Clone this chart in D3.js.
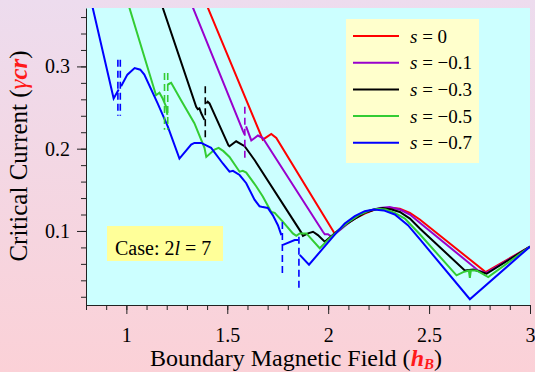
<!DOCTYPE html>
<html>
<head>
<meta charset="utf-8">
<script src="https://cdn.jsdelivr.net/npm/d3@7"></script>
<style>
	html, body { margin: 0; padding: 0; }
	svg { display: block; }
	text { font-family: "Liberation Serif", "Times New Roman", serif; fill: #000; }
</style>
</head>
<body>
<svg id="chart" width="535" height="372"></svg>
<script>
// data: critical current vs boundary field, one curve per s
const tickH = [1, 1.5, 2, 2.5, 3];
const tickGamma = [0.1, 0.2, 0.3];
const sValues = ['0', '\u22120.1', '\u22120.3', '\u22120.5', '\u22120.7'];

// [hB, gamma_cr], null marks a jump
const curveS0 = [
	[1.389, 0.380], [1.676, 0.211], [1.718, 0.218], [1.743, 0.213], [2.032, 0.097],
	[2.082, 0.107], [2.132, 0.115], [2.181, 0.121], [2.231, 0.126], [2.280, 0.128],
	[2.320, 0.128], [2.355, 0.127], [2.405, 0.122], [2.454, 0.114], [2.780, 0.050],
	[3.000, 0.081]
];
const curveS01 = [
	[1.314, 0.381], [1.577, 0.222], [1.586, 0.217], null,
	[1.593, 0.227], [1.619, 0.210], [1.652, 0.216], [1.676, 0.213], [1.974, 0.099],
	[1.983, 0.096], [1.999, 0.096], [2.017, 0.093], [2.057, 0.101], [2.107, 0.111],
	[2.156, 0.119], [2.206, 0.125], [2.256, 0.128], [2.305, 0.129], [2.355, 0.126],
	[2.405, 0.120], [2.454, 0.110], [2.743, 0.052], [2.785, 0.049], [3.000, 0.081]
];
const curveS03 = [
	[1.167, 0.381], [1.346, 0.251], [1.354, 0.248], [1.362, 0.249], [1.371, 0.243],
	[1.387, 0.235], null,
	[1.396, 0.255], [1.403, 0.257], [1.412, 0.255], [1.506, 0.204], [1.511, 0.203],
	[1.544, 0.209], [1.586, 0.203], [1.636, 0.186], [1.867, 0.098], [1.875, 0.094],
	[1.900, 0.097], [1.925, 0.099], [1.949, 0.095], [1.983, 0.087], [2.037, 0.098],
	[2.082, 0.107], [2.132, 0.115], [2.181, 0.122], [2.231, 0.126], [2.270, 0.128],
	[2.315, 0.126], [2.355, 0.123], [2.405, 0.115], [2.454, 0.103], [2.677, 0.052],
	[2.719, 0.053], [2.785, 0.048], [3.000, 0.081]
];
const curveS05 = [
	[1.003, 0.381], [1.147, 0.265], [1.164, 0.268], [1.180, 0.261], [1.197, 0.251],
	[1.203, 0.241], null,
	[1.205, 0.278], [1.222, 0.280], [1.271, 0.259], [1.337, 0.231], [1.387, 0.201],
	[1.396, 0.190], [1.437, 0.199], [1.457, 0.201], [1.481, 0.197], [1.511, 0.190],
	[1.561, 0.172], [1.577, 0.173], [1.594, 0.171], [1.644, 0.154], [1.676, 0.142],
	[1.718, 0.123], [1.735, 0.122], [1.776, 0.111], [1.825, 0.097], [1.842, 0.094],
	[1.859, 0.097], [1.892, 0.097], [1.958, 0.079], [2.007, 0.091], [2.057, 0.102],
	[2.107, 0.112], [2.156, 0.120], [2.206, 0.125], [2.246, 0.127], [2.285, 0.126],
	[2.330, 0.122], [2.380, 0.115], [2.454, 0.096], [2.636, 0.046], [2.669, 0.050],
	[2.697, 0.052], [2.702, 0.043], [2.707, 0.052], [2.735, 0.052], [2.793, 0.044],
	[3.000, 0.081]
];
const curveS07 = [
	[0.824, 0.381], [0.937, 0.261], [0.962, 0.272], null,
	[0.974, 0.276], [1.005, 0.290], [1.041, 0.298], [1.069, 0.296], [1.089, 0.290],
	[1.155, 0.255], [1.205, 0.227], [1.263, 0.188], [1.321, 0.205], [1.337, 0.207],
	[1.371, 0.207], [1.420, 0.201], [1.478, 0.182], [1.511, 0.172], [1.528, 0.173],
	[1.561, 0.168], [1.594, 0.158], [1.635, 0.138], [1.660, 0.130], [1.676, 0.129],
	[1.701, 0.128], [1.726, 0.119], [1.751, 0.107], [1.768, 0.095], null,
	[1.776, 0.083], [1.834, 0.089], [1.851, 0.089], null,
	[1.859, 0.071], [1.905, 0.059], [2.041, 0.098], [2.082, 0.109], [2.132, 0.118],
	[2.181, 0.124], [2.226, 0.126], [2.275, 0.125], [2.330, 0.120], [2.395, 0.107],
	[2.454, 0.090], [2.702, 0.017], [3.000, 0.081]
];

// vertical dashed jump markers (series index into sValues)
const jumpMarks = [
	{ series: 4, h: 0.958, lo: 0.240, hi: 0.308 },
	{ series: 4, h: 0.970, lo: 0.240, hi: 0.308 },
	{ series: 3, h: 1.189, lo: 0.223, hi: 0.292 },
	{ series: 3, h: 1.205, lo: 0.223, hi: 0.292 },
	{ series: 2, h: 1.391, lo: 0.211, hi: 0.276 },
	{ series: 1, h: 1.587, lo: 0.186, hi: 0.251 },
	{ series: 4, h: 1.773, lo: 0.044, hi: 0.111 },
	{ series: 4, h: 1.855, lo: 0.028, hi: 0.093 }
];

const curves = [curveS0, curveS01, curveS03, curveS05, curveS07];

// configs
const WIDTH = 535;
const HEIGHT = 372;
const PLOT = { left: 86, top: 8, right: 530, bottom: 305 };
const SERIES_COLORS = ['#ff0000', '#9900cc', '#000000', '#33cc33', '#0000ff'];
const LINE_W = 2;
const PLOT_BG = '#ccffff';
const LEGEND_BG = '#ffffcc';
const CASE_BG = '#ffff99';
const ACCENT = '#ff1a1a';
const SERIF = '"Liberation Serif", "Times New Roman", serif';

const svg = d3.select('#chart');

// outer gradient background
const defs = svg.append('defs');
const grad = defs.append('linearGradient')
	.attr('id', 'bg-grad')
	.attr('x1', 0).attr('y1', 0)
	.attr('x2', 0).attr('y2', 1);
grad.append('stop').attr('offset', '0%').attr('stop-color', '#eddcee');
grad.append('stop').attr('offset', '100%').attr('stop-color', '#fbd1d7');

svg.append('rect')
	.attr('width', WIDTH)
	.attr('height', HEIGHT)
	.attr('fill', 'url(#bg-grad)');

defs.append('clipPath')
	.attr('id', 'plot-clip')
	.append('rect')
	.attr('x', PLOT.left)
	.attr('y', PLOT.top)
	.attr('width', PLOT.right - PLOT.left)
	.attr('height', PLOT.bottom - PLOT.top);

svg.append('rect')
	.attr('x', PLOT.left)
	.attr('y', PLOT.top)
	.attr('width', PLOT.right - PLOT.left)
	.attr('height', PLOT.bottom - PLOT.top)
	.attr('fill', PLOT_BG);

// scales
const x = d3.scaleLinear().domain([0.8, 3]).range([PLOT.left, PLOT.right]);
const y = d3.scaleLinear().domain([0.01, 0.371]).range([PLOT.bottom, PLOT.top]);

const minorH = d3.range(8, 31).map(d => d / 10);
const minorGamma = d3.range(1, 19).map(d => d * 0.02);

// axes: minor ticks first, then labelled major ticks
svg.append('g')
	.attr('transform', `translate(0,${PLOT.bottom})`)
	.call(d3.axisBottom(x).tickValues(minorH).tickSize(5).tickSizeOuter(0).tickFormat(''));
const xMajor = svg.append('g')
	.attr('transform', `translate(0,${PLOT.bottom})`)
	.call(d3.axisBottom(x).tickValues(tickH).tickSize(9).tickSizeOuter(0).tickPadding(14)
		.tickFormat(d3.format('~g')));
xMajor.select('.domain').remove();

svg.append('g')
	.attr('transform', `translate(${PLOT.left},0)`)
	.call(d3.axisLeft(y).tickValues(minorGamma).tickSize(5).tickSizeOuter(0).tickFormat(''));
const yMajor = svg.append('g')
	.attr('transform', `translate(${PLOT.left},0)`)
	.call(d3.axisLeft(y).tickValues(tickGamma).tickSize(9).tickSizeOuter(0).tickPadding(7)
		.tickFormat(d3.format('.1f')));
yMajor.select('.domain').remove();

// serif tick labels (d3 puts sans-serif on the axis group)
[xMajor, yMajor].forEach(g => g.attr('font-family', SERIF).attr('font-size', 20));
svg.selectAll('.tick text').attr('fill', '#000');
svg.selectAll('.domain, .tick line').attr('stroke', '#222');

// curves
const line = d3.line()
	.defined(d => d !== null)
	.x(d => x(d[0]))
	.y(d => y(d[1]));

const curveGroup = svg.append('g').attr('clip-path', 'url(#plot-clip)');

curveGroup.selectAll('path.curve')
	.data(curves)
	.enter()
	.append('path')
	.attr('class', 'curve')
	.attr('d', line)
	.attr('fill', 'none')
	.attr('stroke', (d, i) => SERIES_COLORS[i])
	.attr('stroke-width', LINE_W);

curveGroup.selectAll('line.jump')
	.data(jumpMarks)
	.enter()
	.append('line')
	.attr('class', 'jump')
	.attr('x1', d => x(d.h))
	.attr('x2', d => x(d.h))
	.attr('y1', d => y(d.hi))
	.attr('y2', d => y(d.lo))
	.attr('stroke', d => SERIES_COLORS[d.series])
	.attr('stroke-width', 1.6)
	.attr('stroke-dasharray', '7,4');

// legend
const legend = svg.append('g').attr('transform', 'translate(346,19)');
legend.append('rect')
	.attr('width', 133)
	.attr('height', 144)
	.attr('fill', LEGEND_BG);

const legendRows = legend.selectAll('g.row')
	.data(sValues)
	.enter()
	.append('g')
	.attr('class', 'row')
	.attr('transform', (d, i) => `translate(0,${17 + i * 26.7})`);

legendRows.append('line')
	.attr('x1', 7).attr('x2', 53)
	.attr('stroke', (d, i) => SERIES_COLORS[i])
	.attr('stroke-width', LINE_W);

const legendText = legendRows.append('text')
	.attr('x', 64)
	.attr('y', 6.5)
	.style('font-size', '19px');
legendText.append('tspan').attr('font-style', 'italic').text('s');
legendText.append('tspan').text(d => ` = ${d}`);

// case label
svg.append('rect')
	.attr('x', 107).attr('y', 226)
	.attr('width', 116).attr('height', 35)
	.attr('fill', CASE_BG);
const caseText = svg.append('text')
	.attr('x', 115).attr('y', 255)
	.style('font-size', '20px');
caseText.append('tspan').text('Case: 2');
caseText.append('tspan').attr('font-style', 'italic').text('l');
caseText.append('tspan').text(' = 7');

// axis titles
const xTitle = svg.append('text')
	.attr('x', 296)
	.attr('y', 366)
	.attr('text-anchor', 'middle')
	.style('font-size', '24px');
xTitle.append('tspan').text('Boundary Magnetic Field (');
xTitle.append('tspan')
	.attr('font-style', 'italic').attr('font-weight', 'bold')
	.attr('fill', ACCENT).text('h');
xTitle.append('tspan')
	.attr('font-style', 'italic').attr('font-weight', 'bold')
	.attr('fill', ACCENT).attr('font-size', '15px').attr('dy', 3).text('B');
xTitle.append('tspan').attr('dy', -3).text(')');

const yTitle = svg.append('text')
	.attr('transform', 'translate(27,156) rotate(-90)')
	.attr('text-anchor', 'middle')
	.style('font-size', '25px');
yTitle.append('tspan').text('Critical Current (');
yTitle.append('tspan')
	.attr('font-style', 'italic')
	.attr('fill', ACCENT).text('\u03b3');
yTitle.append('tspan')
	.attr('font-style', 'italic').attr('font-weight', 'bold')
	.attr('fill', ACCENT).text('cr');
yTitle.append('tspan').text(')');
</script>
</body>
</html>
